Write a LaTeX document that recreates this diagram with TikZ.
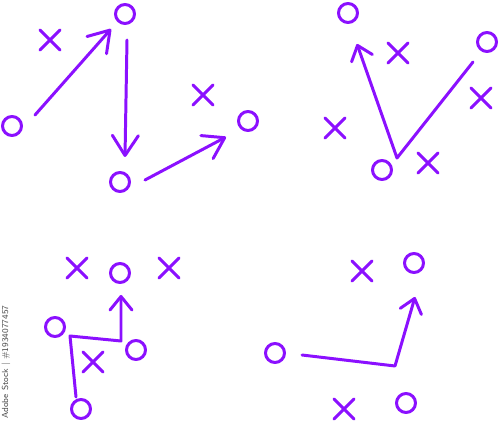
\documentclass[tikz,border=0pt]{standalone}
\usepackage{xcolor}
\usepackage{tikz}
\usetikzlibrary{arrows.meta,shapes.misc,calc}

\definecolor{play}{HTML}{8B10FF}

\begin{document}
\begin{tikzpicture}[
    x=0.02cm, y=-0.02cm,
    line width=1.7pt, line cap=round, line join=round,
    player/.style={circle, draw=play, minimum size=0.38cm, inner sep=0pt, outer sep=0pt},
    xmark/.style={cross out, draw=play, minimum size=0.4cm, inner sep=0pt, outer sep=0pt},
    arrow/.style={draw=play, -{Straight Barb[round, length=4mm, width=5.2mm]}},
    small arrow/.style={draw=play, -{Straight Barb[round, length=2.7mm, width=4.4mm]}},
    route/.style={draw=play}
]
\useasboundingbox (0,0) rectangle (500,425);

% top left play
\node[player] (A1) at (12,126) {};
\node[player] (B1) at (125,14) {};
\node[player] (C1) at (120,182) {};
\node[player] (D1) at (248,121) {};
\node[xmark] (X1) at (50,40) {};
\node[xmark] (X2) at (203,95) {};

\draw[arrow] ($(A1)+(23,-11)$) -- ($(B1)+(-14,15)$);
\draw[arrow] ($(B1)+(2,26)$) -- ($(C1)+(5,-25)$);
\draw[arrow] ($(C1)+(25,-2)$) -- ($(D1)+(-22,16)$);

% top right play
\node[player] (A2) at (348,13) {};
\node[player] (B2) at (487,42) {};
\node[player] (C2) at (382,170) {};
\node[xmark] (X3) at (398,53) {};
\node[xmark] (X4) at (335,128) {};
\node[xmark] (X5) at (481,98) {};
\node[xmark] (X6) at (428,163) {};

\draw[small arrow] ($(B2)+(-14,20)$) -- ($(C2)+(15,-12)$) -- ($(A2)+(9,31)$);

% bottom left play
\node[player] (A3) at (120,273) {};
\node[player] (B3) at (55,327) {};
\node[player] (C3) at (136,350) {};
\node[player] (D3) at (81,409) {};
\node[xmark] (X7) at (77,268) {};
\node[xmark] (X8) at (169,268) {};
\node[xmark] (X9) at (93,362) {};

\draw[small arrow] ($(D3)+(-5,-12)$) -- ($(B3)+(15,9)$) -- ($(C3)+(-15,-9)$) -- ($(A3)+(1,22)$);

% bottom right play
\node[player] (A4) at (414,263) {};
\node[player] (B4) at (275,353) {};
\node[player] (C4) at (406,403) {};
\node[xmark] (X10) at (362,271) {};
\node[xmark] (X11) at (344,409) {};

\draw[small arrow] ($(B4)+(27,2)$) -- ($(C4)+(-11,-37)$) -- ($(A4)+(1,34)$);

% side text
\node[rotate=90, font=\sffamily\fontsize{5}{6}\selectfont, text=black!70] (stock) at (6,362) {Adobe Stock | \#1934077457};
\end{tikzpicture}
\end{document}
